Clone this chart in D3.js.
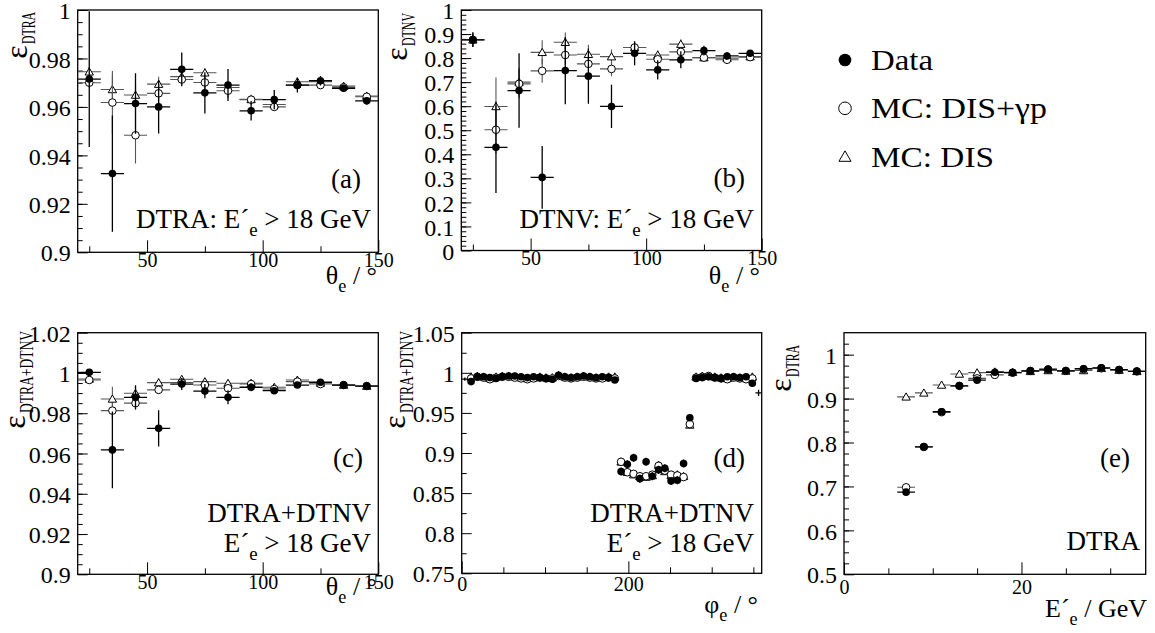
<!DOCTYPE html>
<html>
<head>
<meta charset="utf-8">
<script src="https://cdn.jsdelivr.net/npm/d3@7"></script>
<style>
  body { margin: 0; background: #fff; }
</style>
</head>
<body>
<svg id="chart" width="1155" height="633"></svg>
<script>
// theta bins (deg), half width 5
const thetaBins = [25, 35, 45, 55, 65, 75, 85, 95, 105, 115, 125, 135, 145];

// (a) DTRA vs theta
const dtraThetaData     = [0.9715, 0.9325, 0.9614, 0.9600, 0.9755, 0.9658, 0.9690, 0.9584, 0.9630, 0.9690, 0.9708, 0.9677, 0.9625];
const dtraThetaDataErr  = [0.028, 0.024, 0.0125, 0.011, 0.007, 0.0085, 0.0066, 0.004, 0.004, 0.003, 0.002, 0.0015, 0.0015];
const dtraThetaMcAll    = [0.9700, 0.9618, 0.9483, 0.9656, 0.9713, 0.9701, 0.9667, 0.9630, 0.9600, 0.9690, 0.9690, 0.9681, 0.9642];
const dtraThetaMcAllErr = [0.002, 0.013, 0.0117, 0.004, 0.002, 0.003, 0.003, 0.002, 0.0015, 0.0015, 0.001, 0.001, 0.001];
const dtraThetaMcDis    = [0.9745, 0.9672, 0.9649, 0.9694, 0.9725, 0.9741, 0.9680, 0.9631, 0.9610, 0.9704, 0.9704, 0.9686, 0.9645];
const dtraThetaMcDisErr = [0.002, 0.006, 0.004, 0.003, 0.002, 0.002, 0.002, 0.0015, 0.0015, 0.001, 0.001, 0.001, 0.001];

// (b) DTNV vs theta
const dtnvThetaData     = [0.876, 0.429, 0.665, 0.304, 0.748, 0.725, 0.599, 0.820, 0.751, 0.793, 0.831, 0.809, 0.820];
const dtnvThetaDataErr  = [0.03, 0.19, 0.155, 0.13, 0.14, 0.115, 0.09, 0.05, 0.04, 0.035, 0.02, 0.015, 0.012];
const dtnvThetaMcAll    = [0.876, 0.502, 0.693, 0.747, 0.813, 0.776, 0.755, 0.844, 0.795, 0.826, 0.802, 0.793, 0.804];
const dtnvThetaMcAllErr = [0.03, 0.1, 0.06, 0.05, 0.04, 0.03, 0.03, 0.02, 0.02, 0.02, 0.01, 0.01, 0.01];
const dtnvThetaMcDis    = [0.876, 0.599, 0.700, 0.824, 0.866, 0.816, 0.806, 0.844, 0.813, 0.858, 0.802, 0.800, 0.806];
const dtnvThetaMcDisErr = [0.03, 0.12, 0.06, 0.05, 0.04, 0.04, 0.03, 0.02, 0.02, 0.02, 0.01, 0.01, 0.01];

// (c) DTRA+DTNV vs theta
const bothThetaData     = [1.0003, 0.9618, 0.9879, 0.9725, 0.9945, 0.9910, 0.9879, 0.9929, 0.9912, 0.9940, 0.9954, 0.9940, 0.9935];
const bothThetaDataErr  = [0.001, 0.019, 0.006, 0.009, 0.003, 0.0035, 0.0035, 0.002, 0.0015, 0.0012, 0.001, 0.001, 0.0008];
const bothThetaMcAll    = [0.9965, 0.9813, 0.9850, 0.9916, 0.9952, 0.9940, 0.9924, 0.9945, 0.9920, 0.9957, 0.9945, 0.9940, 0.9935];
const bothThetaMcAllErr = [0.001, 0.004, 0.003, 0.002, 0.0015, 0.0015, 0.0015, 0.001, 0.001, 0.001, 0.0008, 0.0008, 0.0008];
const bothThetaMcDis    = [0.9970, 0.9871, 0.9899, 0.9952, 0.9969, 0.9957, 0.9949, 0.9949, 0.9929, 0.9965, 0.9950, 0.9940, 0.9935];
const bothThetaMcDisErr = [0.001, 0.006, 0.003, 0.002, 0.0015, 0.0015, 0.0015, 0.001, 0.001, 0.001, 0.0008, 0.0008, 0.0008];

// (d) DTRA+DTNV vs phi, bins of 7.5 deg
const phiBins = [3.75, 11.25, 18.75, 26.25, 33.75, 41.25, 48.75, 56.25, 63.75, 71.25, 78.75, 86.25,
  93.75, 101.25, 108.75, 116.25, 123.75, 131.25, 138.75, 146.25, 153.75, 161.25, 168.75, 176.25,
  183.75, 191.25, 198.75, 206.25, 213.75, 221.25, 228.75, 236.25, 243.75, 251.25, 258.75, 266.25,
  273.75, 281.25, 288.75, 296.25, 303.75, 311.25, 318.75, 326.25, 333.75, 341.25, 348.75, 356.25];
const bothPhiData = [0.992, 0.989, 0.995, 0.995, 0.994, 0.993, 0.995, 0.996, 0.996, 0.995, 0.994, 0.995,
  0.994, 0.993, 0.992, 0.997, 0.995, 0.994, 0.995, 0.996, 0.995, 0.994, 0.995, 0.994,
  0.991, 0.877, 0.886, 0.894, 0.868, 0.889, 0.871, 0.879, 0.881, 0.865, 0.866, 0.887,
  0.944, 0.993, 0.994, 0.995, 0.994, 0.993, 0.995, 0.995, 0.994, 0.995, 0.987, 0.975];
const bothPhiDataErr = [0.002, 0.002, 0.002, 0.002, 0.002, 0.002, 0.002, 0.002, 0.002, 0.002, 0.002, 0.002,
  0.002, 0.002, 0.002, 0.002, 0.002, 0.002, 0.002, 0.002, 0.002, 0.002, 0.002, 0.002,
  0.002, 0.005, 0.005, 0.005, 0.005, 0.005, 0.005, 0.005, 0.005, 0.005, 0.005, 0.005,
  0.004, 0.002, 0.002, 0.002, 0.002, 0.002, 0.002, 0.002, 0.002, 0.002, 0.003, 0.004];
const bothPhiMcAll = [0.994, 0.993, 0.995, 0.994, 0.992, 0.994, 0.995, 0.995, 0.994, 0.993, 0.992, 0.993,
  0.994, 0.993, 0.993, 0.996, 0.994, 0.993, 0.994, 0.995, 0.994, 0.993, 0.993, 0.994,
  0.993, 0.889, 0.876, 0.874, 0.871, 0.871, 0.873, 0.884, 0.878, 0.873, 0.872, 0.870,
  0.936, 0.994, 0.995, 0.996, 0.994, 0.993, 0.992, 0.994, 0.993, 0.992, 0.993, 0.990];
const bothPhiMcDis = [0.995, 0.995, 0.996, 0.995, 0.993, 0.995, 0.996, 0.996, 0.995, 0.994, 0.993, 0.994,
  0.995, 0.994, 0.994, 0.997, 0.995, 0.994, 0.995, 0.996, 0.995, 0.994, 0.994, 0.995,
  0.995, 0.889, 0.876, 0.873, 0.871, 0.870, 0.872, 0.885, 0.877, 0.872, 0.873, 0.871,
  0.935, 0.995, 0.996, 0.996, 0.995, 0.994, 0.993, 0.995, 0.994, 0.993, 0.995, 0.991];
// edge bins where only the error cross shows
const phiCrossOnly = [3.75, 356.25];

// (e) DTRA vs E'e, bins of 2 GeV
const energyBins    = [7, 9, 11, 13, 15, 17, 19, 21, 23, 25, 27, 29, 31, 33];
const dtraEData     = [0.687, 0.790, 0.870, 0.929, 0.942, 0.960, 0.959, 0.963, 0.967, 0.963, 0.968, 0.970, 0.966, 0.962];
const dtraEMcAll    = [0.698, 0.790, 0.869, 0.929, 0.946, 0.954, 0.959, 0.963, 0.966, 0.963, 0.967, 0.969, 0.965, 0.962];
const dtraEMcDis    = [0.904, 0.913, 0.931, 0.956, 0.959, 0.961, 0.960, 0.962, 0.964, 0.963, 0.964, 0.969, 0.965, 0.962];
const dtraEErr      = [0.002, 0.002, 0.002, 0.002, 0.002, 0.002, 0.002, 0.002, 0.002, 0.002, 0.002, 0.002, 0.002, 0.002];

// legend entries
const legendLabels = ["Data", "MC: DIS+\u03b3p", "MC: DIS"];
const legendMarkers = ["dot", "circle", "triangle"];

const svg = d3.select("#chart");
const FONT = '"Liberation Serif"';

// zip helper
function pts(xs, ys, errs, skip) {
  return xs.map((x, i) => ({x: x, y: ys[i], e: errs ? errs[i] : 0, bare: skip ? skip.includes(x) : false}));
}

// text with subscripts: parts = [[string, 'n'|'s'], ...]
function richText(parent, x, y, size, anchor, parts) {
  const t = parent.append("text")
    .attr("x", x).attr("y", y)
    .attr("font-size", size)
    .style("font-family", FONT)
    .attr("text-anchor", anchor);
  let low = false;
  parts.forEach(p => {
    const sp = t.append("tspan").text(p[0]);
    if (p[1] === "s" && !low) { sp.attr("dy", size * 0.3).attr("font-size", size * 0.7); low = true; }
    else if (p[1] === "s") { sp.attr("font-size", size * 0.7); }
    else if (low) { sp.attr("dy", -size * 0.3); low = false; }
  });
  return t;
}

function marker(g, type, cx, cy, r) {
  if (type === "dot") {
    g.append("circle").attr("cx", cx).attr("cy", cy).attr("r", r).attr("fill", "#000");
  } else if (type === "circle") {
    g.append("circle").attr("cx", cx).attr("cy", cy).attr("r", r)
      .attr("fill", "#fff").attr("stroke", "#000").attr("stroke-width", 1);
  } else {
    const h = r * 1.9, w = r * 1.1;
    g.append("path")
      .attr("d", `M${cx},${cy - h * 0.55}L${cx + w},${cy + h * 0.45}L${cx - w},${cy + h * 0.45}Z`)
      .attr("fill", "#fff").attr("stroke", "#000").attr("stroke-width", 1);
  }
}

let clipId = 0;
function drawPanel(cfg) {
  const [x0, y0, x1, y1] = cfg.box;
  const x = d3.scaleLinear().domain(cfg.xDomain).range([x0, x1]);
  const y = d3.scaleLinear().domain(cfg.yDomain).range([y1, y0]);
  const g = svg.append("g");
  const fmt = v => String(+v.toFixed(3));

  // minor ticks
  g.append("g").attr("transform", `translate(${x0},0)`)
    .call(d3.axisLeft(y).tickValues(cfg.yMinor).tickSize(-5).tickFormat(""));
  g.append("g").attr("transform", `translate(0,${y1})`)
    .call(d3.axisBottom(x).tickValues(cfg.xMinor).tickSize(-6).tickFormat(""));
  // major ticks + labels
  g.append("g").attr("transform", `translate(${x0},0)`)
    .call(d3.axisLeft(y).tickValues(cfg.yMajor).tickSize(-10).tickPadding(7).tickFormat(fmt))
    .call(a => a.selectAll("text").attr("font-size", 24).style("font-family", FONT).attr("dy", "0.36em"));
  g.append("g").attr("transform", `translate(0,${y1})`)
    .call(d3.axisBottom(x).tickValues(cfg.xMajor).tickSize(-12).tickFormat(fmt))
    .call(a => a.selectAll("text").attr("font-size", 20).style("font-family", FONT)
      .attr("y", cfg.xLabelDy).attr("dy", null));
  g.selectAll(".domain").remove();
  g.selectAll(".tick line").attr("stroke", "#000").attr("stroke-width", 1);

  // frame
  g.append("rect").attr("x", x0).attr("y", y0).attr("width", x1 - x0).attr("height", y1 - y0)
    .attr("fill", "none").attr("stroke", "#000").attr("stroke-width", 1.3);

  // marks
  const id = "clip" + (clipId++);
  svg.append("clipPath").attr("id", id).append("rect")
    .attr("x", x0).attr("y", y0).attr("width", x1 - x0).attr("height", y1 - y0);
  const m = g.append("g").attr("clip-path", `url(#${id})`);
  cfg.series.forEach(s => {
    const col = s.type === "dot" ? "#000" : "#555";
    const sw = s.type === "dot" ? 1.3 : 1.1;
    s.points.forEach(p => {
      m.append("line").attr("x1", x(p.x - cfg.halfBin)).attr("x2", x(p.x + cfg.halfBin))
        .attr("y1", y(p.y)).attr("y2", y(p.y)).attr("stroke", col).attr("stroke-width", sw);
      if (p.e > 0) {
        m.append("line").attr("x1", x(p.x)).attr("x2", x(p.x))
          .attr("y1", y(p.y - p.e)).attr("y2", y(p.y + p.e)).attr("stroke", col).attr("stroke-width", sw);
      }
    });
    s.points.forEach(p => { if (!p.bare) marker(m, s.type, x(p.x), y(p.y), 3.8); });
  });

  // x title
  richText(g, cfg.xTitle.x, cfg.xTitle.y, 26, "end", cfg.xTitle.parts);

  // y title: epsilon plus squeezed subscript, read bottom to top
  const yt = cfg.yTitle;
  g.append("text").attr("font-size", 32).style("font-family", FONT).attr("text-anchor", "middle")
    .attr("transform", `translate(${yt.x},${yt.epsY}) rotate(-90)`).text("\u03b5");
  g.append("text").attr("font-size", 19).style("font-family", FONT).attr("text-anchor", "start")
    .attr("textLength", yt.subLen).attr("lengthAdjust", "spacingAndGlyphs")
    .attr("transform", `translate(${yt.x + 8},${yt.subY}) rotate(-90)`).text(yt.sub);

  // labels inside
  cfg.notes.forEach(n => richText(g, n.x, n.y, 27, "end", n.parts));
}

const thetaTitle = [["\u03b8", "n"], ["e", "s"], ["  /  \u00b0", "n"]];

drawPanel({
  box: [77.7, 10, 378.3, 252.3], xDomain: [20, 150], yDomain: [0.9, 1], halfBin: 5,
  xMajor: [50, 100, 150], xMinor: [25, 75, 125], xLabelDy: 14.5,
  yMajor: [0.9, 0.92, 0.94, 0.96, 0.98, 1], yMinor: d3.range(0.905, 1, 0.005),
  series: [
    {type: "triangle", points: pts(thetaBins, dtraThetaMcDis, dtraThetaMcDisErr)},
    {type: "circle", points: pts(thetaBins, dtraThetaMcAll, dtraThetaMcAllErr)},
    {type: "dot", points: pts(thetaBins, dtraThetaData, dtraThetaDataErr)}
  ],
  xTitle: {x: 377, y: 284, parts: thetaTitle},
  yTitle: {x: 27, epsY: 52, sub: "DTRA", subY: 44, subLen: 32},
  notes: [
    {x: 361, y: 188, parts: [["(a)", "n"]]},
    {x: 371, y: 228, parts: [["DTRA: E\u00b4", "n"], ["e", "s"], [" > 18 GeV", "n"]]}
  ]
});

drawPanel({
  box: [461.3, 10, 761.7, 250.5], xDomain: [20, 150], yDomain: [0, 1], halfBin: 5,
  xMajor: [50, 100, 150], xMinor: [25, 75, 125], xLabelDy: 14.5,
  yMajor: d3.range(0, 1.01, 0.1), yMinor: d3.range(0.02, 1, 0.02),
  series: [
    {type: "triangle", points: pts(thetaBins, dtnvThetaMcDis, dtnvThetaMcDisErr)},
    {type: "circle", points: pts(thetaBins, dtnvThetaMcAll, dtnvThetaMcAllErr)},
    {type: "dot", points: pts(thetaBins, dtnvThetaData, dtnvThetaDataErr)}
  ],
  xTitle: {x: 760, y: 284, parts: thetaTitle},
  yTitle: {x: 407, epsY: 54, sub: "DTNV", subY: 46, subLen: 33},
  notes: [
    {x: 745, y: 187, parts: [["(b)", "n"]]},
    {x: 754, y: 228, parts: [["DTNV: E\u00b4", "n"], ["e", "s"], [" > 18 GeV", "n"]]}
  ]
});

drawPanel({
  box: [77.7, 332.7, 378.3, 574.3], xDomain: [20, 150], yDomain: [0.9, 1.02], halfBin: 5,
  xMajor: [50, 100, 150], xMinor: [25, 75, 125], xLabelDy: 14.5,
  yMajor: [0.9, 0.92, 0.94, 0.96, 0.98, 1, 1.02], yMinor: d3.range(0.905, 1.02, 0.005),
  series: [
    {type: "triangle", points: pts(thetaBins, bothThetaMcDis, bothThetaMcDisErr)},
    {type: "circle", points: pts(thetaBins, bothThetaMcAll, bothThetaMcAllErr)},
    {type: "dot", points: pts(thetaBins, bothThetaData, bothThetaDataErr)}
  ],
  xTitle: {x: 377, y: 595, parts: thetaTitle},
  yTitle: {x: 25, epsY: 422, sub: "DTRA+DTNV", subY: 413, subLen: 82},
  notes: [
    {x: 363, y: 467, parts: [["(c)", "n"]]},
    {x: 371, y: 522, parts: [["DTRA+DTNV", "n"]]},
    {x: 371, y: 552, parts: [["E\u00b4", "n"], ["e", "s"], [" > 18 GeV", "n"]]}
  ]
});

drawPanel({
  box: [461.7, 332.7, 761.7, 573.3], xDomain: [0, 360], yDomain: [0.75, 1.05], halfBin: 3.75,
  xMajor: [0, 200], xMinor: [50, 100, 150, 250, 300, 350], xLabelDy: 17.5,
  yMajor: [0.75, 0.8, 0.85, 0.9, 0.95, 1, 1.05], yMinor: d3.range(0.775, 1.05, 0.05),
  series: [
    {type: "triangle", points: pts(phiBins, bothPhiMcDis, null, phiCrossOnly).filter(p => !p.bare)},
    {type: "circle", points: pts(phiBins, bothPhiMcAll, null, phiCrossOnly).filter(p => !p.bare)},
    {type: "dot", points: pts(phiBins, bothPhiData, bothPhiDataErr, phiCrossOnly)}
  ],
  xTitle: {x: 758, y: 613, parts: [["\u03c6", "n"], ["e", "s"], ["  /  \u00b0", "n"]]},
  yTitle: {x: 405, epsY: 422, sub: "DTRA+DTNV", subY: 413, subLen: 82},
  notes: [
    {x: 745, y: 467, parts: [["(d)", "n"]]},
    {x: 754, y: 522, parts: [["DTRA+DTNV", "n"]]},
    {x: 754, y: 552, parts: [["E\u00b4", "n"], ["e", "s"], [" > 18 GeV", "n"]]}
  ]
});

drawPanel({
  box: [844, 332.7, 1145.7, 574.3], xDomain: [0, 34], yDomain: [0.5, 1.05], halfBin: 1,
  xMajor: [0, 20], xMinor: [5, 10, 15, 25, 30], xLabelDy: 20,
  yMajor: [0.5, 0.6, 0.7, 0.8, 0.9, 1], yMinor: d3.range(0.525, 1.05, 0.025),
  series: [
    {type: "triangle", points: pts(energyBins, dtraEMcDis, dtraEErr)},
    {type: "circle", points: pts(energyBins, dtraEMcAll, dtraEErr)},
    {type: "dot", points: pts(energyBins, dtraEData, dtraEErr)}
  ],
  xTitle: {x: 1147, y: 617, parts: [["E\u00b4", "n"], ["e", "s"], ["  / GeV", "n"]]},
  yTitle: {x: 791, epsY: 385, sub: "DTRA", subY: 377, subLen: 32},
  notes: [
    {x: 1130, y: 467, parts: [["(e)", "n"]]},
    {x: 1140, y: 550, parts: [["DTRA", "n"]]}
  ]
});

// legend
const leg = svg.append("g");
const legendLen = [62, 176, 123];
legendLabels.forEach((lab, i) => {
  const cy = 60 + i * 48.3;
  marker(leg, legendMarkers[i], 845, cy, legendMarkers[i] === "triangle" ? 5.5 : 6.3);
  leg.append("text").attr("x", 871).attr("y", cy + 10).attr("font-size", 29).style("font-family", FONT)
    .attr("textLength", legendLen[i]).attr("lengthAdjust", "spacingAndGlyphs").text(lab);
});
</script>
</body>
</html>
